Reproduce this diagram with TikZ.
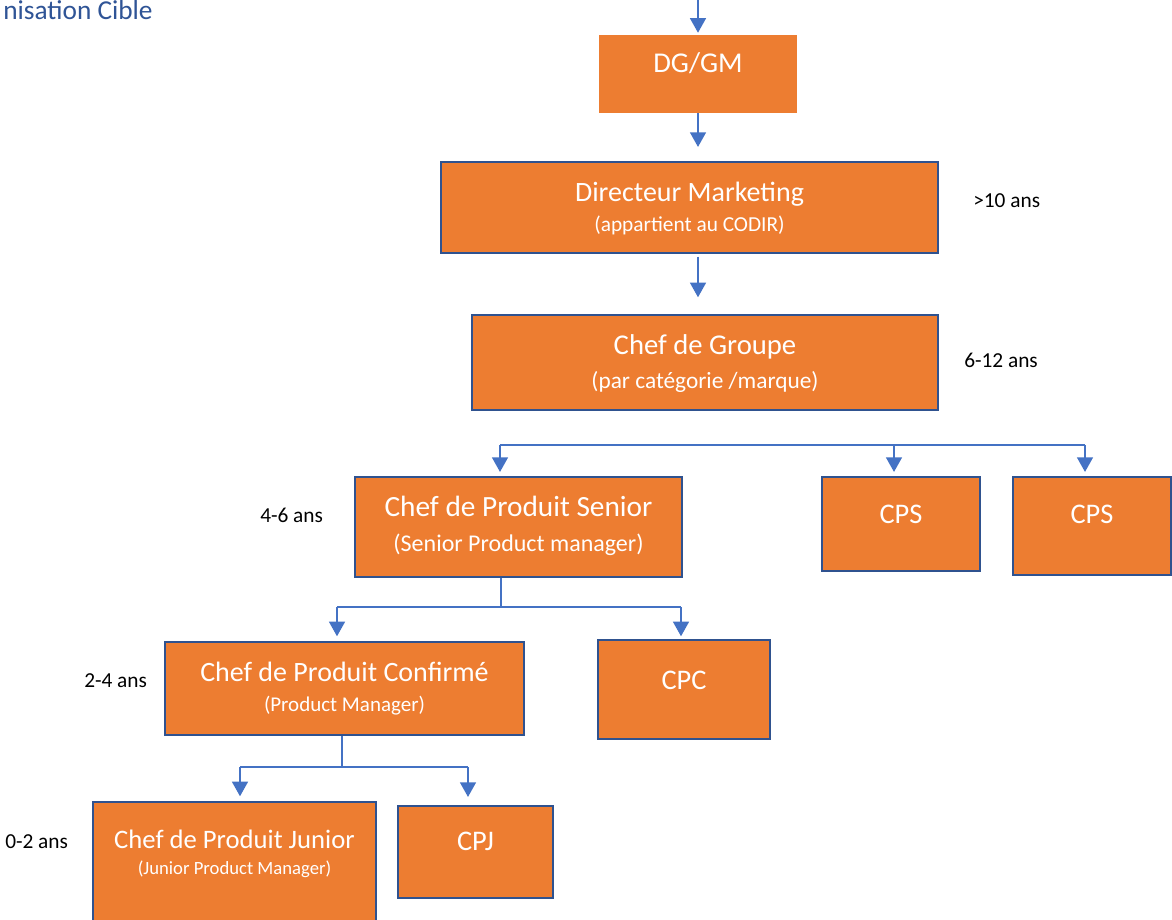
\documentclass[tikz,border=0pt]{standalone}
\usepackage{fontspec}
\setmainfont{Carlito}
\usetikzlibrary{arrows.meta,fit}
\definecolor{orng}{HTML}{ED7D31}
\definecolor{bord}{HTML}{2F528F}
\definecolor{lnk}{HTML}{4472C4}
\definecolor{ttlblue}{HTML}{2F5496}
\begin{document}
\begin{tikzpicture}[x=0.75pt,y=-0.75pt,
  box/.style={fill=orng, draw=bord, line width=1.6pt, inner sep=0pt},
  plainbox/.style={fill=orng, inner sep=0pt},
  conn/.style={draw=lnk, line width=1.2pt},
  arr/.style={draw=lnk, line width=1.2pt, -{Triangle[width=12pt,length=11pt]}},
  txt/.style={anchor=base, inner sep=0pt, text=white},
  side/.style={anchor=base west, inner sep=0pt, text=black, font=\fontsize{16}{19}\selectfont}]
\useasboundingbox (0,0) rectangle (1172,920);
\fill[white] (0,0) rectangle (1172,920);

% title
\node[anchor=base west, inner sep=0pt, text=ttlblue, font=\fontsize{20.5}{25}\selectfont] (title) at (3,20) {nisation Cible};

% boxes
\node[plainbox, fit={(599,35)(797,113)}] (dg) {};
\node[box, fit={(441,162)(938,253)}] (dir) {};
\node[box, fit={(472,315)(938,410)}] (grp) {};
\node[box, fit={(355,477)(682,577)}] (sen) {};
\node[box, fit={(822,477)(980,571)}] (cps1) {};
\node[box, fit={(1013,477)(1171,575)}] (cps2) {};
\node[box, fit={(165,642)(524,735)}] (conf) {};
\node[box, fit={(598,640)(770,739)}] (cpc) {};
\node[box, fit={(93,802)(376,935)}] (jun) {};
\node[box, fit={(398,806)(553,898)}] (cpj) {};

% texts
\node[txt, font=\fontsize{21.5}{25}\selectfont] (dgt) at (698,73) {DG/GM};
\node[txt, font=\fontsize{21}{25}\selectfont] (dirt) at (689.5,202) {Directeur Marketing};
\node[txt, font=\fontsize{16}{19}\selectfont] (dirs) at (689.5,232) {(appartient au CODIR)};
\node[txt, font=\fontsize{21.5}{25}\selectfont] (grpt) at (705,354) {Chef de Groupe};
\node[txt, font=\fontsize{17.5}{21}\selectfont] (grps) at (705,388) {(par catégorie /marque)};
\node[txt, font=\fontsize{22}{26}\selectfont] (sent) at (518.5,516) {Chef de Produit Senior};
\node[txt, font=\fontsize{18}{21}\selectfont] (sens) at (518.5,551) {(Senior Product manager)};
\node[txt, font=\fontsize{21.3}{25}\selectfont] (cps1t) at (901,523) {CPS};
\node[txt, font=\fontsize{21.3}{25}\selectfont] (cps2t) at (1092,523) {CPS};
\node[txt, font=\fontsize{21}{25}\selectfont] (conft) at (344.5,681) {Chef de Produit Confirmé};
\node[txt, font=\fontsize{15.75}{19}\selectfont] (confs) at (344.5,711) {(Product Manager)};
\node[txt, font=\fontsize{21.3}{25}\selectfont] (cpct) at (684,689) {CPC};
\node[txt, font=\fontsize{20}{24}\selectfont] (junt) at (234.5,848) {Chef de Produit Junior};
\node[txt, font=\fontsize{14}{17}\selectfont] (juns) at (234.5,874) {(Junior Product Manager)};
\node[txt, font=\fontsize{21.3}{25}\selectfont] (cpjt) at (475.5,850) {CPJ};

% side labels
\node[side] (l1) at (973,208) {>10 ans};
\node[side] (l2) at (964,367) {6-12 ans};
\node[side] (l3) at (260,522) {4-6 ans};
\node[side] (l4) at (84,687) {2-4 ans};
\node[side] (l5) at (5,848) {0-2 ans};

% connectors
\coordinate (top) at (698,0);
\draw[arr, shorten >=1.5pt] (top) -- (dg.north);
\draw[arr, shorten >=10.5pt] (dg.south) -- (dg.south |- dir.north);
\draw[arr, shorten <=2pt, shorten >=12.5pt] (dg.south |- dir.south) -- (dg.south |- grp.north);

\coordinate (g1) at (500,445);
\coordinate (g2) at (894,445);
\coordinate (g3) at (1085,445);
\draw[conn] (g1) -- (g3);
\draw[arr, shorten >=3pt] (g1) -- (g1 |- sen.north);
\draw[arr, shorten >=3pt] (g2) -- (g2 |- cps1.north);
\draw[arr, shorten >=3pt] (g3) -- (g3 |- cps2.north);

\coordinate (s0) at (501,607);
\coordinate (s1) at (337,607);
\coordinate (s2) at (681,607);
\draw[conn] (s0 |- sen.south) -- (s0);
\draw[conn] (s1) -- (s2);
\draw[arr, shorten >=3.5pt] (s1) -- (s1 |- conf.north);
\draw[arr, shorten >=2pt] (s2) -- (s2 |- cpc.north);

\coordinate (c0) at (342,767);
\coordinate (c1) at (240,767);
\coordinate (c2) at (468,767);
\draw[conn] (c0 |- conf.south) -- (c0);
\draw[conn] (c1) -- (c2);
\draw[arr, shorten >=3.5pt] (c1) -- (c1 |- jun.north);
\draw[arr, shorten >=6pt] (c2) -- (c2 |- cpj.north);
\end{tikzpicture}
\end{document}
